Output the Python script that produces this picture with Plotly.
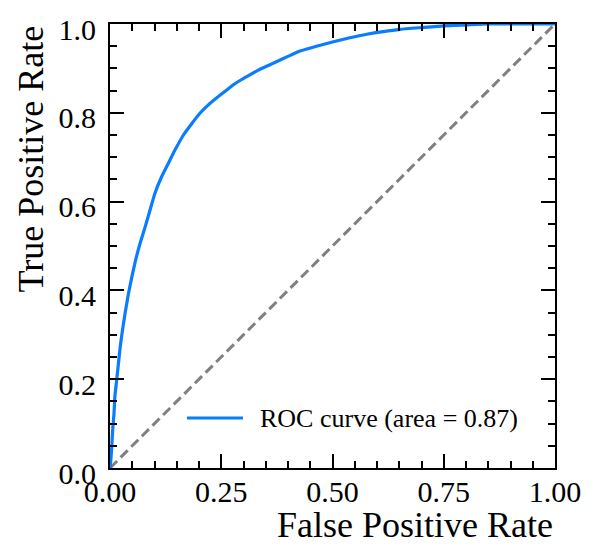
import plotly.graph_objects as go

# ROC curve points (false positive rate, true positive rate)
fpr = [0, 0.002, 0.004, 0.006, 0.009, 0.011, 0.015, 0.019, 0.023, 0.028,
       0.034, 0.041, 0.049, 0.057, 0.067, 0.079, 0.090, 0.101, 0.116, 0.131,
       0.146, 0.165, 0.184, 0.202, 0.221, 0.240, 0.258, 0.277, 0.296, 0.315,
       0.333, 0.352, 0.374, 0.40, 0.427, 0.464, 0.502, 0.539, 0.577, 0.614,
       0.652, 0.70, 0.75, 0.80, 0.85, 1.0]
tpr = [0, 0.02, 0.048, 0.086, 0.123, 0.161, 0.198, 0.236, 0.273, 0.310,
       0.349, 0.390, 0.430, 0.466, 0.504, 0.543, 0.581, 0.619, 0.656, 0.686,
       0.716, 0.750, 0.776, 0.799, 0.818, 0.834, 0.848, 0.863, 0.875, 0.886,
       0.896, 0.905, 0.915, 0.927, 0.939, 0.950, 0.960, 0.969, 0.977, 0.983,
       0.988, 0.992, 0.996, 0.998, 1.0, 1.0]
roc_auc = 0.87

# chance line
chance = [0, 1]

x_ticks = [0, 0.25, 0.5, 0.75, 1.0]
x_tick_text = ["0.00", "0.25", "0.50", "0.75", "1.00"]
y_ticks = [0, 0.2, 0.4, 0.6, 0.8, 1.0]
y_tick_text = ["0.0", "0.2", "0.4", "0.6", "0.8", "1.0"]

FONT = "Liberation Serif"
CURVE_COLOR = "#0a7cff"

fig = go.Figure()
fig.add_trace(go.Scatter(x=chance, y=chance, mode="lines",
                         line=dict(color="#808080", width=3, dash="10px,5px"),
                         showlegend=False, hoverinfo="skip"))
fig.add_trace(go.Scatter(x=fpr, y=tpr, mode="lines",
                         line=dict(color=CURVE_COLOR, width=3.2, shape="spline",
                                   smoothing=0.5),
                         name=f"ROC curve (area = {roc_auc:.2f})",
                         showlegend=False))

axis_common = dict(
    range=[0, 1], showgrid=False, zeroline=False, automargin=False,
    showline=True, linecolor="black", linewidth=2, mirror="allticks",
    ticks="inside", ticklen=14, tickwidth=1.8, tickcolor="black",
    tickfont=dict(family=FONT, size=30, color="black"),
    minor=dict(ticks="inside", ticklen=7, tickwidth=1.6, tickcolor="black",
               dtick=0.05, showgrid=False),
    fixedrange=True,
)

fig.update_xaxes(**axis_common, tickmode="array", tickvals=x_ticks,
                 ticktext=x_tick_text, ticklabelstandoff=-4)
fig.update_yaxes(**axis_common, tickmode="array", tickvals=y_ticks,
                 ticktext=y_tick_text, ticklabelstandoff=6,
                 ticklabelshift=5)

# legend entry drawn in the lower right of the axes
fig.add_shape(type="line", xref="paper", yref="paper",
              x0=(187 - 110) / 445, x1=(243 - 110) / 445,
              y0=(468 - 418) / 444, y1=(468 - 418) / 444,
              line=dict(color=CURVE_COLOR, width=3.2))
fig.add_annotation(text=f"ROC curve (area = {roc_auc:.2f})",
                   xref="paper", yref="paper",
                   x=(258 - 110) / 445, y=(468 - 418) / 444,
                   xanchor="left", yanchor="middle", showarrow=False,
                   font=dict(family=FONT, size=26, color="black"))

# axis titles: x label right-aligned, y label top-aligned
fig.add_annotation(text="False Positive Rate", xref="paper", yref="paper",
                   x=1, y=0, xanchor="right", yanchor="top", yshift=-35,
                   showarrow=False,
                   font=dict(family=FONT, size=36, color="black"))
fig.add_annotation(text="True Positive Rate", xref="paper", yref="paper",
                   x=0, y=1, xanchor="center", yanchor="top",
                   xshift=-80, yshift=0, textangle=-90, showarrow=False,
                   font=dict(family=FONT, size=36, color="black"))

fig.update_layout(
    width=589, height=546,
    margin=dict(l=110, r=34, t=24, b=78, pad=0),
    paper_bgcolor="white", plot_bgcolor="white",
    showlegend=False,
)

fig.write_html("out.html")
